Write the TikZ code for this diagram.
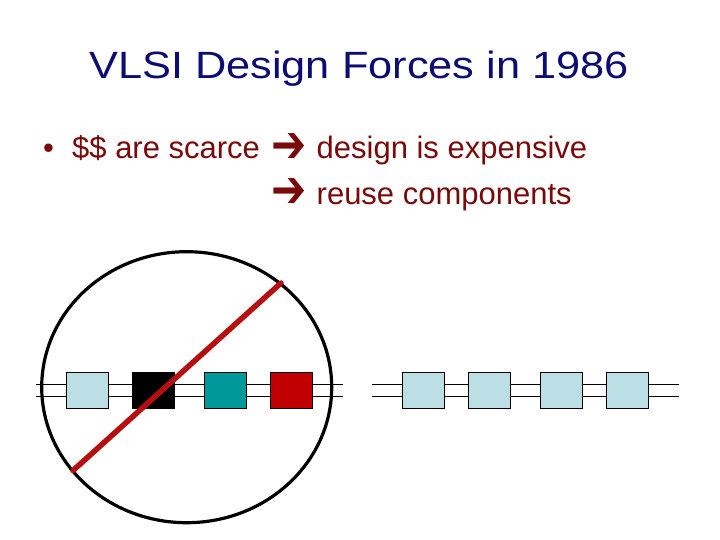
\documentclass[tikz,border=0pt]{standalone}
\usepackage{fontspec}
\setmainfont{Liberation Sans}
\newfontfamily\symfont{DejaVu Sans}
\definecolor{titleblue}{HTML}{0C0C72}
\definecolor{bodyred}{HTML}{7A0A0A}
\definecolor{lightbox}{HTML}{BBDFE4}
\definecolor{tealbox}{HTML}{009999}
\definecolor{redbox}{HTML}{C00000}
\definecolor{slashred}{HTML}{B50F0F}
\begin{document}
\begin{tikzpicture}[x=1pt,y=-1pt,
  comp/.style={draw=black,line width=0.9pt,minimum width=42.5pt,minimum height=36pt,inner sep=0pt},
  wire/.style={draw=black,line width=0.9pt},
  body/.style={anchor=base west,inner sep=0pt,text=bodyred,font=\fontsize{31}{37}\selectfont},
  arr/.style={anchor=center,inner sep=0pt,text=bodyred,font=\symfont\fontsize{42}{42}\selectfont}]
\useasboundingbox (0,0) rectangle (720,540);
% title
\node[anchor=base,inner sep=0pt,text=titleblue,xscale=1.14,font=\fontsize{38}{44}\selectfont] (title) at (359,79) {VLSI Design Forces in 1986};
% bullet text
\node[body] (bul) at (43,159) {•};
\node[body] (t1) at (72,159) {\$\$ are scarce};
\node[arr,yscale=1.25] (a1) at (289.5,148) {➔};
\node[body] (t2) at (316.5,159) {design is expensive};
\node[arr,yscale=1.25] (a2) at (289.5,193.5) {➔};
\node[body] (t3) at (316.5,205) {reuse components};
% wires
\coordinate (ls) at (36,390.3);
\coordinate (le) at (343,390.3);
\coordinate (rs) at (372,390.3);
\coordinate (re) at (679,390.3);
\draw[wire] ([yshift=6pt]ls) -- ([yshift=6pt]le);
\draw[wire] ([yshift=-6pt]ls) -- ([yshift=-6pt]le);
\draw[wire] ([yshift=6pt]rs) -- ([yshift=6pt]re);
\draw[wire] ([yshift=-6pt]rs) -- ([yshift=-6pt]re);
% left chain
\node[comp,fill=lightbox] (b1) at (87.5,390.3) {};
\node[comp,fill=black] (b2) at (153.3,390.3) {};
\node[comp,fill=tealbox] (b3) at (225.5,390.3) {};
\node[comp,fill=redbox] (b4) at (291.3,390.3) {};
% right chain
\node[comp,fill=lightbox] (c1) at (423.3,390.3) {};
\node[comp,fill=lightbox] (c2) at (489.5,390.3) {};
\node[comp,fill=lightbox] (c3) at (561.5,390.3) {};
\node[comp,fill=lightbox] (c4) at (627.3,390.3) {};
% circle and slash
\coordinate (cc) at (186.7,387.2);
\draw[line width=3.2pt] (cc) ellipse [x radius=145, y radius=135.5];
\coordinate (s1) at (281,283);
\coordinate (s2) at (73,470.5);
\draw[slashred,line width=5.5pt,line cap=round] (s1) -- (s2);
\end{tikzpicture}
\end{document}
